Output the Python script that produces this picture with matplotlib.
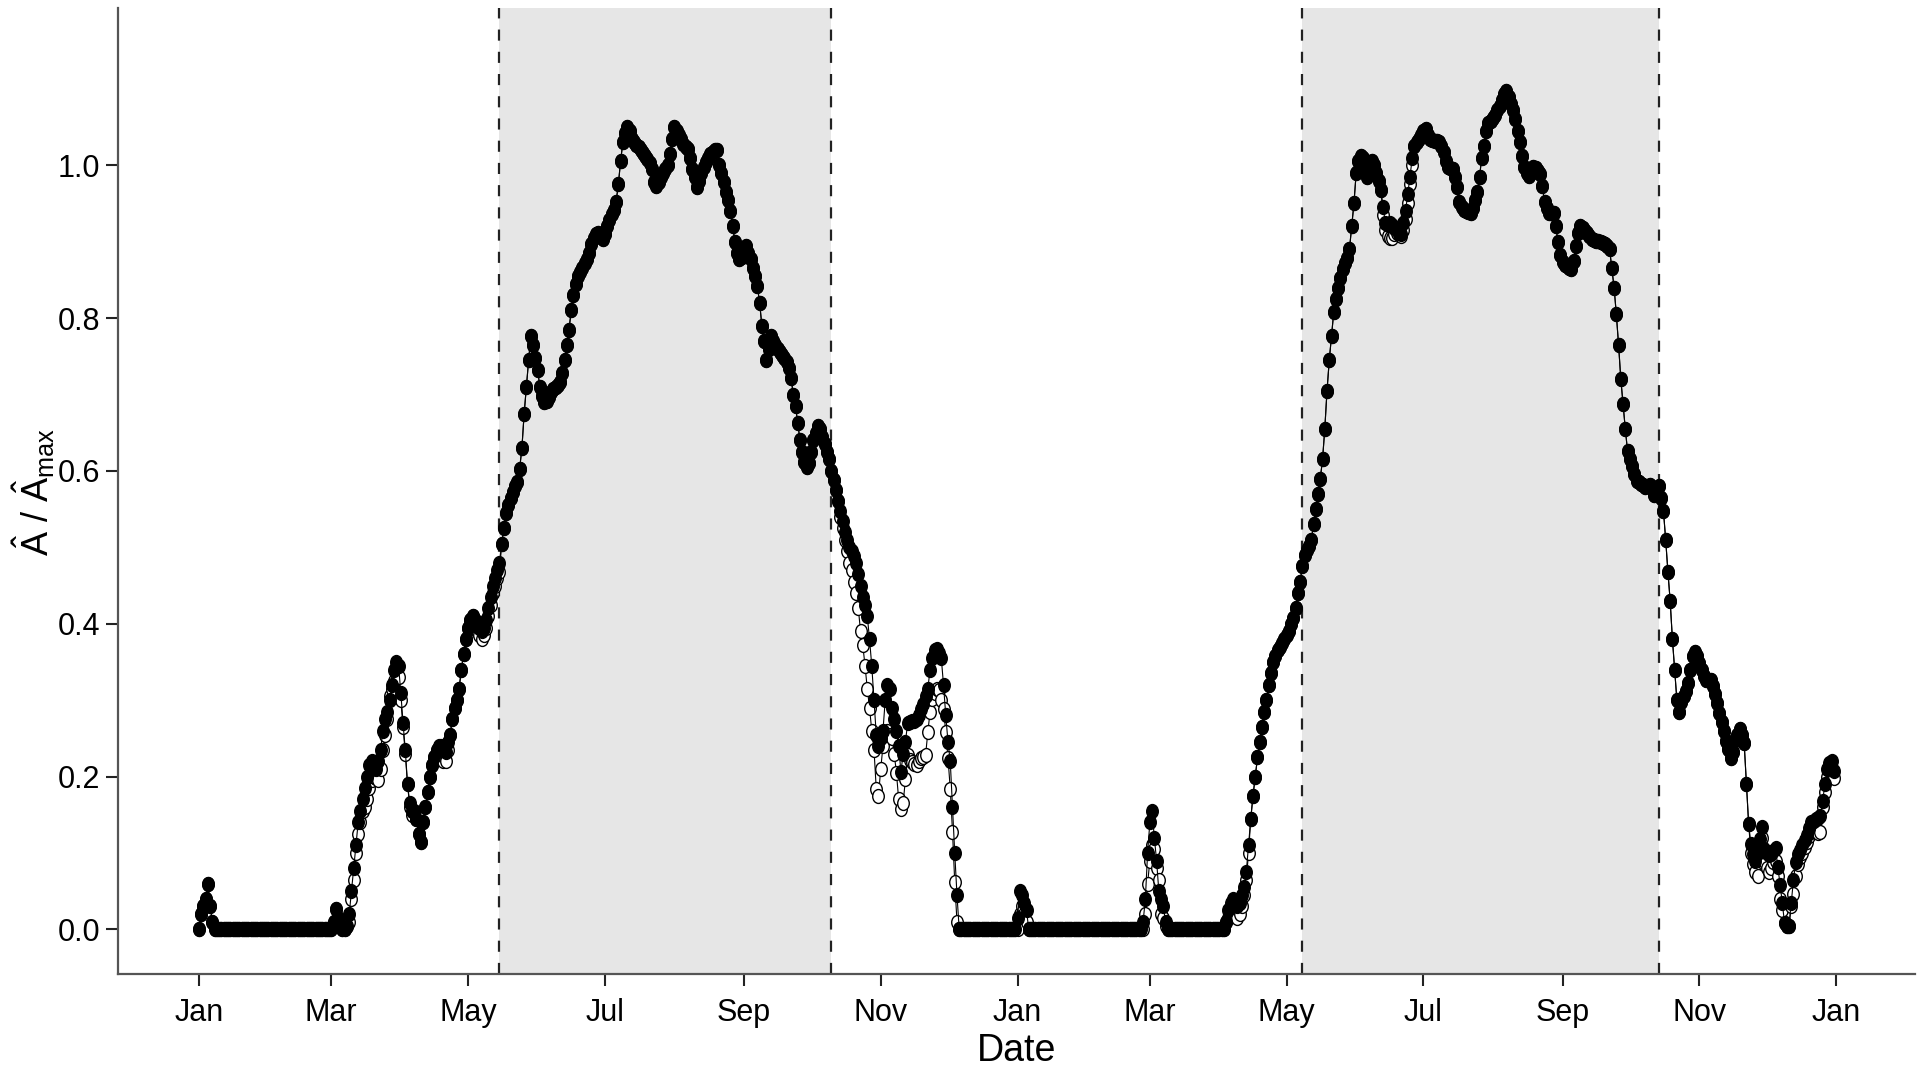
import matplotlib
matplotlib.use("Agg")
import matplotlib.pyplot as plt
from matplotlib.path import Path
from matplotlib.transforms import Affine2D
import pandas as pd

# ---- data (daily values) ----
start_date = "2017-01-01"
n_days = 730

# filled circles
filled_vals = (
    [0.00, 0.02, 0.03, 0.04, 0.06, 0.03, 0.01]
    + [0.0] * 53
    + [0.01, 0.027, 0.015, 0.005, 0.0, 0.0, 0.005]
    # day 67
    + [0.02, 0.05, 0.08, 0.11, 0.14, 0.155, 0.17, 0.185, 0.20, 0.215,
       0.22, 0.215, 0.21, 0.22, 0.235, 0.26, 0.275, 0.285, 0.30, 0.32,
       0.34, 0.35, 0.345, 0.31, 0.27, 0.235, 0.19, 0.165, 0.155, 0.155,
       0.145, 0.125, 0.115, 0.14, 0.16, 0.18, 0.20, 0.215, 0.225, 0.235,
       0.24, 0.24, 0.235, 0.232, 0.245, 0.255, 0.275, 0.29, 0.30, 0.315,
       0.34, 0.36, 0.38, 0.395, 0.405, 0.41, 0.405, 0.398, 0.395, 0.39,
       0.395, 0.405, 0.42, 0.435, 0.45, 0.46, 0.47, 0.48, 0.505]
    # day 136
    + [0.525, 0.545, 0.555, 0.565, 0.572, 0.58, 0.585, 0.603, 0.63, 0.675,
       0.71, 0.745, 0.777, 0.765, 0.748, 0.732, 0.71, 0.698, 0.69, 0.692,
       0.697, 0.703, 0.707, 0.71, 0.713, 0.716, 0.728, 0.745, 0.765, 0.785,
       0.81, 0.83, 0.845, 0.855, 0.86, 0.865, 0.872, 0.877, 0.885, 0.897,
       0.905, 0.91, 0.912, 0.908, 0.904, 0.91, 0.92, 0.928, 0.936, 0.942,
       0.952, 0.975, 1.005, 1.03, 1.042, 1.05, 1.045, 1.035, 1.03, 1.027,
       1.024, 1.02, 1.016, 1.012, 1.008, 1.003, 0.995, 0.978, 0.973, 0.978,
       0.984, 0.99, 0.995, 1.0, 1.015, 1.035, 1.05, 1.045, 1.04, 1.035,
       1.028, 1.024, 1.021, 1.01, 0.995, 0.985, 0.972, 0.98, 0.99, 0.998,
       1.004, 1.01, 1.015, 1.018, 1.02, 1.02, 1.0, 0.99, 0.978, 0.965,
       0.955, 0.94, 0.92, 0.9, 0.885, 0.877, 0.88, 0.888, 0.894, 0.885,
       0.877, 0.865, 0.855, 0.842, 0.82, 0.79, 0.77, 0.745, 0.76, 0.777,
       0.77, 0.765, 0.76, 0.756, 0.752, 0.748, 0.742, 0.735, 0.722, 0.70,
       0.685, 0.663, 0.64, 0.625, 0.612, 0.605, 0.61, 0.625, 0.64, 0.65,
       0.659, 0.655, 0.645, 0.635, 0.625, 0.616, 0.60, 0.588, 0.575, 0.56,
       0.548, 0.535, 0.52, 0.51, 0.50, 0.495, 0.488, 0.48, 0.465, 0.45,
       0.435, 0.425, 0.41, 0.38, 0.345, 0.30, 0.255, 0.24, 0.25, 0.26,
       0.30, 0.32, 0.315, 0.29, 0.275, 0.26, 0.24, 0.206, 0.23, 0.245,
       0.27, 0.272, 0.273, 0.273, 0.275, 0.28, 0.289, 0.295, 0.305, 0.315,
       0.34, 0.355, 0.365, 0.367, 0.362, 0.355, 0.32, 0.28, 0.245, 0.22,
       0.16, 0.10, 0.045]
    + [0.0] * 26
    # day 365
    + [0.015, 0.05, 0.045, 0.035, 0.025, 0.0]
    + [0.0] * 50
    # day 421
    + [0.01, 0.04, 0.10, 0.14, 0.155, 0.12, 0.09, 0.05, 0.04, 0.03, 0.01]
    + [0.0] * 26
    # day 458
    + [0.01, 0.025, 0.035, 0.04, 0.035, 0.03, 0.035, 0.045, 0.055, 0.075,
       0.11, 0.145, 0.175, 0.20, 0.225, 0.245, 0.265, 0.285, 0.30, 0.32,
       0.335, 0.35, 0.358, 0.365, 0.37, 0.375, 0.38, 0.385, 0.39, 0.40,
       0.407, 0.42, 0.44, 0.455, 0.475, 0.49, 0.497, 0.502, 0.51, 0.53,
       0.55, 0.57, 0.59, 0.615, 0.655, 0.705, 0.745, 0.777, 0.808, 0.825,
       0.84, 0.852, 0.864, 0.872, 0.878, 0.89, 0.92, 0.95, 0.99, 1.005,
       1.012, 1.01, 0.998, 0.985, 0.995, 1.005, 1.0, 0.99, 0.98, 0.968,
       0.945, 0.925, 0.922, 0.925, 0.922, 0.918, 0.916, 0.912, 0.91, 0.925,
       0.94, 0.962, 0.985, 1.01, 1.025, 1.03, 1.035, 1.04, 1.045, 1.047,
       1.04, 1.034, 1.033, 1.032, 1.032, 1.03, 1.025, 1.018, 1.005, 0.998,
       0.996, 0.995, 0.985, 0.972, 0.952, 0.946, 0.942, 0.94, 0.939, 0.938,
       0.944, 0.955, 0.965, 0.985, 1.01, 1.025, 1.045, 1.055, 1.058, 1.062,
       1.066, 1.072, 1.077, 1.085, 1.093, 1.097, 1.09, 1.08, 1.072, 1.06,
       1.045, 1.03, 1.012, 0.998, 0.99, 0.986, 0.99, 0.998, 0.997, 0.992,
       0.988, 0.973, 0.952, 0.944, 0.938, 0.938, 0.938, 0.92, 0.9, 0.882,
       0.874, 0.87, 0.868, 0.866, 0.864, 0.875, 0.895, 0.912, 0.92, 0.918,
       0.914, 0.912, 0.908, 0.904, 0.902, 0.901, 0.901, 0.9, 0.898, 0.897,
       0.894, 0.89, 0.865, 0.84, 0.805, 0.765, 0.72, 0.688, 0.655, 0.626,
       0.615, 0.606, 0.596, 0.587, 0.585, 0.583, 0.581, 0.579, 0.58, 0.582,
       0.578, 0.569, 0.578, 0.58, 0.565, 0.548, 0.51, 0.468, 0.43, 0.38,
       0.34, 0.30, 0.285, 0.298, 0.306, 0.312, 0.322, 0.34, 0.358, 0.363,
       0.358, 0.348, 0.34, 0.332, 0.327, 0.326, 0.326, 0.318, 0.308, 0.296,
       0.283, 0.271, 0.259, 0.247, 0.236, 0.224, 0.232, 0.248, 0.255, 0.262,
       0.255, 0.244, 0.19, 0.138, 0.112, 0.098, 0.09, 0.10, 0.118, 0.134,
       0.105, 0.10, 0.097, 0.098, 0.102, 0.106, 0.082, 0.058, 0.035, 0.008,
       0.004, 0.005, 0.035, 0.065, 0.088, 0.098, 0.104, 0.11, 0.117, 0.124,
       0.133, 0.14, 0.142, 0.144, 0.146, 0.148, 0.168, 0.19, 0.21, 0.218,
       0.221, 0.207]
)

# open circles: same as filled except in these stretches (start day -> values)
open_segments = {
    67: [0.01, 0.04, 0.065, 0.10, 0.125, 0.14, 0.155, 0.16, 0.17, 0.185,
         0.195, 0.20, 0.198, 0.196, 0.21, 0.235, 0.255, 0.275, 0.305, 0.315,
         0.325, 0.335, 0.33, 0.30, 0.265, 0.23, 0.19, 0.16, 0.15],
    107: [0.23, 0.225, 0.22, 0.22, 0.235],
    124: [0.39, 0.385, 0.38, 0.385, 0.395, 0.41, 0.425, 0.44, 0.45, 0.46, 0.468],
    286: [0.54, 0.525, 0.51, 0.495, 0.48, 0.47, 0.455, 0.44, 0.42, 0.39,
          0.372, 0.345, 0.315, 0.29, 0.26, 0.235, 0.184, 0.175, 0.21, 0.24,
          0.255, 0.26, 0.255, 0.25, 0.23, 0.205, 0.17, 0.158, 0.165, 0.197,
          0.228, 0.222, 0.219, 0.217, 0.215, 0.22, 0.224, 0.226, 0.228, 0.258,
          0.285, 0.302, 0.31, 0.315, 0.313, 0.30, 0.289, 0.258, 0.224, 0.184,
          0.128, 0.062, 0.01],
    365: [0.0, 0.02, 0.03, 0.02, 0.01],
    421: [0.0, 0.02, 0.06, 0.09, 0.11, 0.105, 0.08, 0.065, 0.02, 0.015, 0.005],
    459: [0.015, 0.02, 0.025, 0.02, 0.015, 0.02, 0.03, 0.045, 0.065, 0.10],
    528: [0.935, 0.915, 0.908, 0.905, 0.905, 0.91, 0.912, 0.91, 0.908, 0.915,
          0.93, 0.95, 0.975, 1.0],
    692: [0.10, 0.085, 0.075, 0.07, 0.10, 0.12, 0.09, 0.08, 0.075, 0.08,
          0.088, 0.09, 0.07, 0.04, 0.025, 0.008, 0.004, 0.005, 0.03, 0.046,
          0.07, 0.085, 0.095, 0.10, 0.108, 0.115, 0.122, 0.128, 0.13, 0.128,
          0.126, 0.127, 0.16, 0.18, 0.20, 0.21, 0.205, 0.198],
}

season_starts = ["2017-05-15", "2018-05-08"]
season_ends = ["2017-10-10", "2018-10-14"]

tick_dates = ["2017-01-01", "2017-03-01", "2017-05-01", "2017-07-01", "2017-09-01",
              "2017-11-01", "2018-01-01", "2018-03-01", "2018-05-01", "2018-07-01",
              "2018-09-01", "2018-11-01", "2019-01-01"]
tick_labels = ["Jan", "Mar", "May", "Jul", "Sep", "Nov",
               "Jan", "Mar", "May", "Jul", "Sep", "Nov", "Jan"]
y_ticks = [0.0, 0.2, 0.4, 0.6, 0.8, 1.0]

# ---- build series ----
dates = pd.date_range(start_date, periods=n_days, freq="D")
assert len(filled_vals) == n_days, len(filled_vals)
open_vals = list(filled_vals)
for d0, seg in open_segments.items():
    open_vals[d0:d0 + len(seg)] = seg

plt.rcParams['font.family'] = ['Liberation Sans', 'DejaVu Sans']
plt.rcParams['mathtext.fontset'] = 'custom'
plt.rcParams['mathtext.rm'] = 'Liberation Sans'
plt.rcParams['mathtext.it'] = 'Liberation Sans:italic'

# slightly tall ellipse marker (source image is stretched vertically)
egg = Path.unit_circle().transformed(Affine2D().scale(1.0, 1.2))

fig = plt.figure(figsize=(19.27, 10.69), dpi=100)
ax = fig.add_axes([0.061, 0.0893, 0.9328, 0.9032])

for s, e in zip(season_starts, season_ends):
    ax.axvspan(pd.Timestamp(s), pd.Timestamp(e), color="#e6e6e6", lw=0, zorder=0)
    for x in (s, e):
        ax.axvline(pd.Timestamp(x), color="#222222", lw=1.6, dashes=(5, 5), zorder=1)

ax.plot(dates, open_vals, color="black", lw=0.8, marker=egg, markersize=10,
        markerfacecolor="white", markeredgecolor="black", markeredgewidth=1.0, zorder=3)
ax.plot(dates, filled_vals, color="black", lw=0.8, marker=egg, markersize=10,
        markerfacecolor="black", markeredgecolor="black", markeredgewidth=1.0, zorder=4)

ax.set_xlim(dates[0] - pd.Timedelta(days=36.3), dates[0] + pd.Timedelta(days=765.2))
ax.set_ylim(-0.0578, 1.2058)

ax.set_xticks([pd.Timestamp(t) for t in tick_dates])
ax.set_xticklabels(tick_labels)
ax.set_yticks(y_ticks)
ax.set_yticklabels([f"{v:.1f}" for v in y_ticks])

for side in ("top", "right"):
    ax.spines[side].set_visible(False)
for side in ("left", "bottom"):
    ax.spines[side].set_color("#555555")
    ax.spines[side].set_linewidth(1.6)

ax.tick_params(axis="both", length=8.5, width=1.5, color="#222222", labelsize=22)
ax.tick_params(axis="x", pad=9)
ax.tick_params(axis="y", pad=4)

ax.set_xlabel("Date", fontsize=27, labelpad=4)
fig.text(0.0175, 0.54, r"$\hat{\mathrm{A}}\ /\ \hat{\mathrm{A}}_{\mathrm{max}}$",
         rotation=90, ha="center", va="center", fontsize=26)

fig.savefig("out.png", dpi=100)
